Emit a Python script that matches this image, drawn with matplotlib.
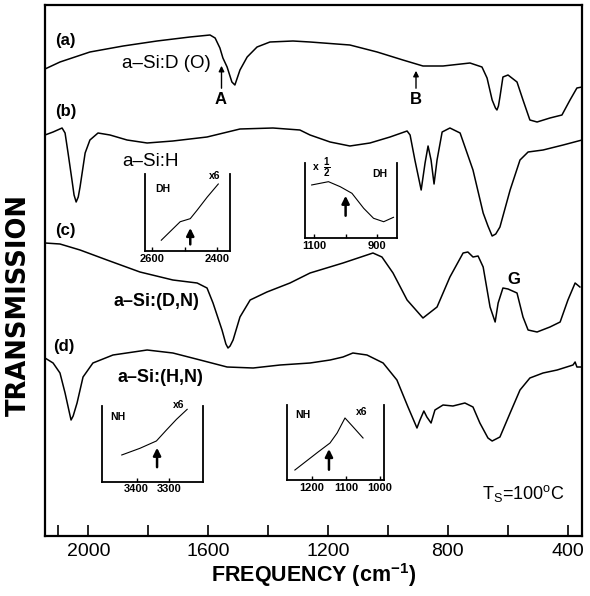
import matplotlib
matplotlib.use('Agg')
import matplotlib.pyplot as plt

plt.rcParams['font.family'] = ['Liberation Sans', 'DejaVu Sans']
plt.rcParams['mathtext.fontset'] = 'custom'
plt.rcParams['mathtext.rm'] = 'Liberation Sans'
plt.rcParams['mathtext.bf'] = 'Liberation Sans:bold'

# ---------------- data (frequency in cm^-1, transmission offset units) -------------
freq_a = [2145, 2095, 1995, 1884, 1771, 1661, 1594, 1577, 1561, 1551, 1537, 1521, 1511,
          1494, 1470, 1437, 1394, 1317, 1260, 1127, 1036, 950, 883, 816, 726, 686, 669,
          652, 641, 636, 631, 626, 616, 599, 569, 549, 526, 502, 459, 419, 392, 369, 352]
trans_a = [467, 474, 484, 490, 495, 499, 501, 498, 488, 478, 469, 454, 451, 466, 479, 489,
           494, 495, 494, 491, 484, 476, 470, 470, 473, 469, 458, 436, 428, 426, 430, 439,
           459, 461, 454, 436, 416, 414, 418, 421, 436, 448, 449]

freq_b = [2145, 2118, 2088, 2078, 2068, 2055, 2048, 2041, 2034, 2028, 2011, 1995, 1968,
          1928, 1871, 1804, 1718, 1604, 1494, 1384, 1294, 1260, 1193, 1127, 1060, 993, 936,
          926, 910, 889, 876, 866, 856, 846, 836, 819, 793, 759, 716, 682, 666, 652, 640,
          626, 592, 559, 532, 482, 415, 352]
trans_b = [401, 404, 408, 403, 383, 356, 341, 334, 339, 349, 383, 396, 403, 401, 396, 393,
           395, 399, 407, 408, 406, 401, 394, 390, 393, 399, 405, 401, 376, 346, 373, 390,
           376, 352, 376, 404, 408, 403, 366, 323, 310, 300, 302, 309, 346, 376, 384, 386,
           391, 396]

freq_c = [2145, 2095, 2028, 1938, 1828, 1718, 1637, 1604, 1584, 1554, 1541, 1534, 1527,
          1517, 1494, 1460, 1404, 1327, 1260, 1150, 1050, 1020, 983, 936, 883, 836, 793,
          749, 733, 716, 699, 682, 659, 642, 632, 616, 599, 569, 549, 532, 502, 459, 425,
          399, 375, 359]
trans_c = [293, 292, 286, 276, 264, 256, 253, 248, 233, 206, 192, 188, 190, 196, 219, 236,
           244, 253, 263, 273, 283, 279, 263, 236, 218, 229, 259, 283, 284, 279, 280, 269,
           229, 214, 233, 248, 247, 243, 219, 206, 204, 209, 214, 236, 253, 249]

freq_d = [2145, 2118, 2095, 2078, 2064, 2058, 2051, 2038, 2018, 1985, 1918, 1804, 1718,
          1627, 1537, 1450, 1360, 1260, 1193, 1150, 1117, 1070, 1016, 970, 933, 903, 893,
          880, 870, 856, 843, 816, 783, 743, 716, 693, 666, 652, 626, 592, 559, 526, 482,
          435, 382, 375, 369, 352]
trans_d = [178, 173, 163, 143, 124, 116, 120, 133, 159, 173, 181, 186, 183, 176, 169, 168,
           171, 173, 176, 179, 183, 181, 173, 156, 129, 108, 116, 125, 119, 113, 126, 131,
           130, 133, 129, 113, 98, 95, 99, 123, 146, 158, 163, 166, 171, 174, 169, 169]

# insets (scaled transmission, 0..1)
ins1_freq = [2572, 2514, 2483, 2462, 2431, 2397]
ins1_val = [0.14, 0.38, 0.42, 0.53, 0.70, 0.87]
ins2_freq = [1107, 1054, 1017, 980, 943, 912, 880, 849]
ins2_val = [0.707, 0.751, 0.684, 0.596, 0.396, 0.263, 0.217, 0.276]
ins3_freq = [3446, 3390, 3339, 3308, 3277, 3244]
ins3_val = [0.353, 0.441, 0.538, 0.683, 0.824, 0.956]
ins4_freq = [1250, 1182, 1147, 1126, 1103, 1079, 1050]
ins4_val = [0.133, 0.373, 0.493, 0.627, 0.827, 0.707, 0.56]

main_ticks = [2100, 2000, 1800, 1600, 1400, 1200, 1000, 800, 600, 400]
main_labels = ['', '2000', '', '1600', '', '1200', '', '800', '', '400']

# ---------------- figure -------------
W, H = 590, 596
fig = plt.figure(figsize=(W / 100, H / 100), dpi=100)


def box(l, t, r, b):
    return [l / W, 1 - b / H, (r - l) / W, (b - t) / H]


def fp(x, y):
    return (x / W, 1 - y / H)


ax = fig.add_axes(box(45, 5, 582, 536))
for f, t in [(freq_a, trans_a), (freq_b, trans_b), (freq_c, trans_c), (freq_d, trans_d)]:
    ax.plot(f, t, color='black', lw=1.1, solid_joinstyle='round')
ax.set_xlim(2145, 352)
ax.set_ylim(0, 531)
ax.set_yticks([])
ax.set_xticks(main_ticks)
ax.set_xticklabels(main_labels)
ax.tick_params(axis='x', direction='in', length=8, width=1.2, labelsize=14, pad=5)
for s in ax.spines.values():
    s.set_linewidth(1.6)
ax.set_xlabel('FREQUENCY (cm$^{\\mathregular{-1}}$)', fontsize=15.5, fontweight='bold', labelpad=1)
fig.text(*fp(19, 305), 'TRANSMISSION', fontsize=18.5, fontweight='bold', rotation=90,
         ha='center', va='center', family=['DejaVu Sans'])

# labels
for txt, x, y in [('(a)', 55, 40), ('(b)', 55, 112), ('(c)', 55, 230), ('(d)', 53, 346)]:
    fig.text(*fp(x, y), txt, fontsize=12, fontweight='bold', ha='left', va='center')
fig.text(*fp(122, 63), 'a–Si:D (O)', fontsize=13.5, ha='left', va='center')
fig.text(*fp(122, 162), 'a–Si:H', fontsize=13.5, ha='left', va='center')
fig.text(*fp(113, 302), 'a–Si:(D,N)', fontsize=13, fontweight='bold', ha='left', va='center')
fig.text(*fp(117, 378), 'a–Si:(H,N)', fontsize=13, fontweight='bold', ha='left', va='center')
fig.text(*fp(221, 100), 'A', fontsize=12, fontweight='bold', ha='center', va='center')
fig.text(*fp(416, 100), 'B', fontsize=12, fontweight='bold', ha='center', va='center')
fig.text(*fp(514, 280), 'G', fontsize=12, fontweight='bold', ha='center', va='center')
fig.text(*fp(482, 493), 'T$_{\\mathregular{S}}$=100$^{\\mathregular{o}}$C', fontsize=13,
         ha='left', va='center')

for x, y0, y1 in [(221.5, 91, 63), (416, 91, 68)]:
    fig.add_artist(matplotlib.patches.FancyArrowPatch(
        fp(x, y0), fp(x, y1), transform=fig.transFigure, arrowstyle='-|>',
        mutation_scale=8, lw=1.0, color='black'))


def inset(rect, fr, val, xlim, ticks, labels, arrow_x, arrow_y):
    a = fig.add_axes(rect)
    a.plot(fr, val, color='black', lw=0.8)
    a.set_xlim(*xlim)
    a.set_ylim(0, 1)
    a.set_yticks([])
    a.set_xticks(ticks)
    a.set_xticklabels(labels)
    a.tick_params(axis='x', direction='in', length=3, width=1, labelsize=8, pad=2)
    for lab in a.get_xticklabels():
        lab.set_fontweight('bold')
    a.spines['top'].set_visible(False)
    for s in ['left', 'right', 'bottom']:
        a.spines[s].set_linewidth(1.3)
    a.patch.set_alpha(0)
    a.annotate('', xy=(arrow_x, arrow_y[1]), xytext=(arrow_x, arrow_y[0]),
               arrowprops=dict(arrowstyle='-|>', lw=1.8, mutation_scale=11, color='black'))
    return a


i1 = inset(box(145, 174, 230, 251), ins1_freq, ins1_val, (2622, 2361),
           [2600, 2500, 2400], ['2600', '', '2400'], 2483, (0.05, 0.335))
i1.text(0.21, 0.80, 'DH', transform=i1.transAxes, fontsize=7.5, fontweight='bold', ha='center', va='center')
i1.text(0.82, 0.97, 'x6', transform=i1.transAxes, fontsize=7.5, fontweight='bold', ha='center', va='center')

i2 = inset(box(305, 163, 397, 238), ins2_freq, ins2_val, (1128, 838),
           [1100, 1000, 900], ['1100', '', '900'], 1000, (0.26, 0.6))
i2.text(0.12, 0.95, 'x', transform=i2.transAxes, fontsize=7.5, fontweight='bold', ha='center', va='center')
i2.text(0.24, 0.93, '$\\mathbf{\\frac{1}{2}}$', transform=i2.transAxes, fontsize=10, ha='center', va='center')
i2.text(0.815, 0.85, 'DH', transform=i2.transAxes, fontsize=7.5, fontweight='bold', ha='center', va='center')

i3 = inset(box(101.7, 406, 202.7, 481.7), ins3_freq, ins3_val, (3508, 3196),
           [3400, 3300], ['3400', '3300'], 3337, (0.155, 0.485))
i3.text(0.165, 0.86, 'NH', transform=i3.transAxes, fontsize=7.5, fontweight='bold', ha='center', va='center')
i3.text(0.76, 1.01, 'x6', transform=i3.transAxes, fontsize=7.5, fontweight='bold', ha='center', va='center')

i4 = inset(box(286.7, 405, 383.5, 480), ins4_freq, ins4_val, (1274, 990),
           [1200, 1100, 1000], ['1200', '1100', '1000'], 1150, (0.1, 0.45))
i4.text(0.17, 0.867, 'NH', transform=i4.transAxes, fontsize=7.5, fontweight='bold', ha='center', va='center')
i4.text(0.775, 0.91, 'x6', transform=i4.transAxes, fontsize=7.5, fontweight='bold', ha='center', va='center')

fig.savefig('out.png', dpi=100)
